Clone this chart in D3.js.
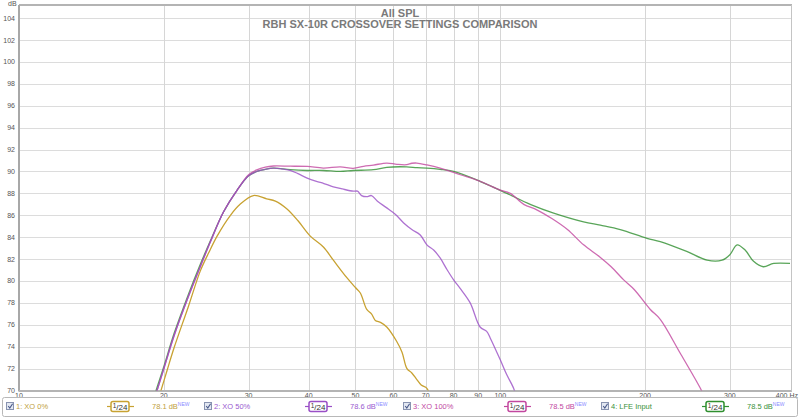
<!DOCTYPE html>
<html><head><meta charset="utf-8">
<script src="https://cdn.jsdelivr.net/npm/d3@7"></script>
<style>
html,body{margin:0;padding:0;background:#fff;}
svg{display:block;font-family:"Liberation Sans",Arial,sans-serif;}
</style></head>
<body>
<script>
// ---- data ----
const xTicks = [10,20,30,40,50,60,70,80,90,100,200,300,400];
const xTickLabels = ["10","20","30","40","50","60","70","80","90","100","200","300","400 Hz"];
const yTicks = [70,72,74,76,78,80,82,84,86,88,90,92,94,96,98,100,102,104];
const seriesNames = ["1: XO 0%","2: XO 50%","3: XO 100%","4: LFE Input"];
const seriesLevels = ["78.1 dB","78.6 dB","78.5 dB","78.5 dB"];
const seriesColors = ["#c8a232","#9a4fc6","#c2479f","#2f8f2f"];
const legendColors = ["#c0a040","#9a5ad0","#c2479f","#3a913a"];

const xo0Freq = [19.6,20.3,21,22.5,23.8,24.8,25.8,27.5,28.8,30.7,32.7,34.1,36,38,40.3,42.9,45,48,50,51.2,52.8,54,55,56.5,58.1,60.9,62.5,64,65.5,67.1,68.5,70.4,71.5];
const xo0Db   = [69.6,71.8,73.9,77.7,80.9,82.6,84.1,86.0,87.0,87.8,87.5,87.3,86.6,85.5,84.1,83.1,81.9,80.3,79.4,78.9,77.4,77.0,76.4,76.2,75.8,74.5,73.5,72.0,71.6,71.0,70.5,70.2,69.4];

const xo50Freq = [19.2,20,21,22.5,23.8,25,26.6,28.4,30,31.2,32.5,33.8,35,36.6,38,39.7,41.5,43,45,47,49.5,50.5,51.5,52.8,54,55.5,58,60.5,63,65.5,68.2,70.4,72.8,75,77.6,80,82.6,86.6,90.8,93.7,95.3,100,103,106.6,108];
const xo50Db   = [69.5,72.0,75.0,78.6,81.3,83.6,86.3,88.3,89.6,90.0,90.2,90.3,90.25,90.1,89.8,89.4,89.1,88.9,88.6,88.4,88.2,88.2,87.8,87.7,87.8,87.3,86.7,86.1,85.3,84.7,84.2,83.3,82.8,82.1,81.0,80.1,79.3,78.0,75.8,75.4,74.8,72.8,71.5,70.2,69.4];

const xo100Freq = [19.2,20,21,22.5,23.8,25,26.6,28.4,30,31.2,32.5,33.8,36.6,39.7,42.9,46.5,49.5,52,54.5,58.1,61,63.9,65.5,67.1,70.4,75,82.6,90.8,100,104.9,111.9,119.1,128,137.9,149,161,170,180.5,190,205,215,236.6,260.5,265];
const xo100Db   = [69.5,72.0,75.0,78.6,81.3,83.6,86.3,88.3,89.7,90.15,90.4,90.5,90.48,90.46,90.31,90.42,90.28,90.47,90.58,90.77,90.65,90.62,90.75,90.77,90.6,90.3,89.7,89.1,88.3,88.0,87.0,86.5,85.7,84.7,83.3,82.2,81.3,80.1,79.2,77.4,76.5,73.4,70.2,69.5];

const lfeFreq = [19.1,20,21,22.5,23.8,25,26.6,28.4,30,31.2,32.5,33.8,36.6,39.7,42.9,46.5,49.5,54.5,58.1,63.9,67.1,70.4,75,80,90.8,103.2,115.4,129.1,149,161.4,177.6,201.8,215,244,269,289,300,310.6,323,336,352,370,400];
const lfeDb   = [69.5,72.2,75.2,78.8,81.5,83.7,86.3,88.3,89.6,90.0,90.2,90.3,90.16,90.09,90.09,90.0,90.09,90.16,90.38,90.42,90.35,90.31,90.2,90.0,89.1,88.0,87.0,86.2,85.4,85.1,84.7,83.9,83.6,82.7,81.9,81.9,82.4,83.3,82.8,81.8,81.3,81.6,81.6];

const seriesFreqs = [xo0Freq, xo50Freq, xo100Freq, lfeFreq];
const seriesDbs = [xo0Db, xo50Db, xo100Db, lfeDb];
const drawOrder = [0, 3, 2, 1];

// ---- layout ----
const W = 800, H = 418;
const L = 19, R = 790, T = 5, B = 390.5;

const svg = d3.select("body").append("svg").attr("width", W).attr("height", H);

const x = d3.scaleLog().domain([10,400]).range([L,R]);
const y = d3.scaleLinear().domain([70,105.2]).range([B,T]);

// gridlines
const g = svg.append("g");
g.selectAll(".hg").data(yTicks).enter().append("line")
  .attr("x1", L).attr("x2", R+1)
  .attr("y1", d => Math.round(y(d))+0.5).attr("y2", d => Math.round(y(d))+0.5)
  .attr("stroke", "#dcdcdc").attr("stroke-width", 1);
g.selectAll(".vg").data(xTicks.slice(1,-1)).enter().append("line")
  .attr("y1", T).attr("y2", B)
  .attr("x1", d => Math.round(x(d))+0.5).attr("x2", d => Math.round(x(d))+0.5)
  .attr("stroke", "#d6d6d6").attr("stroke-width", 1);

// frame
svg.append("line").attr("x1", L).attr("x2", R+2).attr("y1", T).attr("y2", T).attr("stroke", "#b4b4b4").attr("stroke-width", 2);
svg.append("line").attr("x1", L).attr("x2", L).attr("y1", T).attr("y2", B+1).attr("stroke", "#a8a8a8").attr("stroke-width", 2);
svg.append("line").attr("x1", L).attr("x2", R+2).attr("y1", B+0.5).attr("y2", B+0.5).attr("stroke", "#b4b4b4").attr("stroke-width", 2);
svg.append("line").attr("x1", R+1.5).attr("x2", R+1.5).attr("y1", T).attr("y2", B+1).attr("stroke", "#c4c4c4").attr("stroke-width", 1);

// axes labels
svg.append("g").selectAll("text").data(yTicks).enter().append("text")
  .attr("x", 15).attr("y", d => y(d)+2.5).attr("text-anchor","end")
  .attr("font-size", 7).attr("fill", "#555").text(d => d);
svg.append("text").attr("x", 8).attr("y", 6).attr("font-size", 7).attr("fill", "#555").text("dB");

svg.append("g").selectAll("text").data(xTicks).enter().append("text")
  .attr("x", (d,i) => i === xTicks.length-1 ? 798 : x(d))
  .attr("y", 397.5)
  .attr("text-anchor", (d,i) => i === xTicks.length-1 ? "end" : "middle")
  .attr("font-size", 7).attr("fill", "#555").text((d,i) => xTickLabels[i]);

// titles
svg.append("text").attr("x", 400).attr("y", 17).attr("text-anchor","middle")
  .attr("font-size", 11).attr("font-weight","bold").attr("fill","#7a7a7a").text("All SPL");
svg.append("text").attr("x", 400).attr("y", 27.5).attr("text-anchor","middle")
  .attr("font-size", 11).attr("font-weight","bold").attr("fill","#7a7a7a").text("RBH SX-10R CROSSOVER SETTINGS COMPARISON");

// curves
svg.append("clipPath").attr("id","clip").append("rect")
  .attr("x", L+1).attr("y", T).attr("width", R-L).attr("height", B-T);
const line = d3.line().x(d => x(d[0])).y(d => y(d[1])).curve(d3.curveCatmullRom.alpha(0.5));
const curves = svg.append("g").attr("clip-path","url(#clip)");
drawOrder.forEach(i => {
  const fs = seriesFreqs[i];
  const pts = fs.map((f, j) => [f, seriesDbs[i][j]]);
  curves.append("path").datum(pts).attr("d", line)
    .attr("fill","none").attr("stroke", seriesColors[i]).attr("stroke-width", 1.3)
    .attr("stroke-opacity", i === 0 ? 1 : 0.8);
});

// legend
const lg = svg.append("g");
lg.append("rect").attr("x", 2.5).attr("y", 397.5).attr("width", 795).attr("height", 19)
  .attr("fill", "#fff").attr("stroke", "#b8b8b8").attr("rx", 2);
const itemX = [5, 203, 402, 600];
seriesNames.forEach((name, i) => {
  const x0 = itemX[i];
  const cy = 406.5;
  const it = lg.append("g").attr("transform", `translate(${x0},0)`);
  it.append("rect").attr("x", 1.5).attr("y", cy-4).attr("width", 7).attr("height", 7)
    .attr("fill", "#e3e8f2").attr("stroke", "#8893b0");
  it.append("path").attr("d", `M3.2 ${cy-0.5} L4.8 ${cy+1.5} L7.6 ${cy-2.8}`)
    .attr("fill","none").attr("stroke","#4a5a8a").attr("stroke-width",1.1);
  it.append("text").attr("x", 11).attr("y", cy+2.7).attr("font-size", 7.5)
    .attr("fill", legendColors[i]).text(name);
  // badge
  const bx = 103;
  it.append("line").attr("x1", bx-1).attr("x2", bx+26).attr("y1", cy).attr("y2", cy)
    .attr("stroke", seriesColors[i]).attr("stroke-width", 1.2);
  it.append("rect").attr("x", bx+3).attr("y", cy-5).attr("width", 18).attr("height", 10).attr("rx", 2)
    .attr("fill", "#fff").attr("stroke", seriesColors[i]).attr("stroke-width", 1.5);
  const bt = it.append("text").attr("x", bx+12).attr("y", cy+3.2).attr("text-anchor","middle")
    .attr("font-size", 8).attr("fill", "#333");
  bt.append("tspan").attr("font-size", 6.5).attr("dy", -1.5).text("1");
  bt.append("tspan").attr("dy", 1.5).text("/24");
  // level
  const lt = it.append("text").attr("x", 147).attr("y", cy+2.7).attr("font-size", 7.5).attr("fill", legendColors[i]);
  lt.append("tspan").text(seriesLevels[i]);
  lt.append("tspan").attr("dy", -3).attr("font-size", 5).attr("fill", "#8a8aff").text("NEW");
});
</script>
</body></html>
